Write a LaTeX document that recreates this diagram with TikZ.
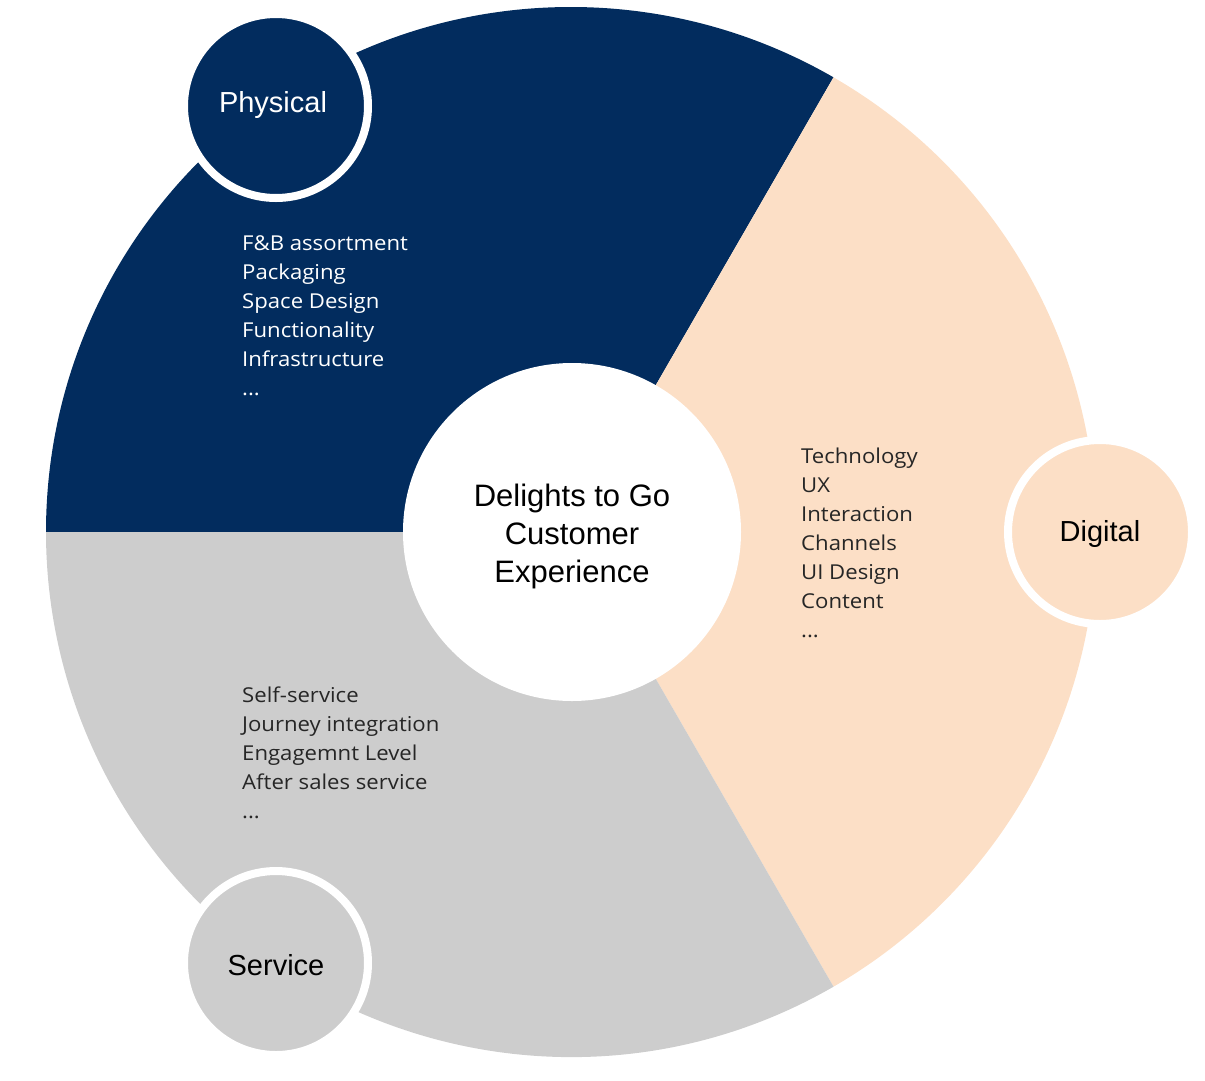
\documentclass[tikz,border=0pt]{standalone}
\usepackage{fontspec}
\setmainfont{Liberation Sans}
\newfontfamily\listfont[FakeStretch=1.08]{Open Sans}
\definecolor{navy}{RGB}{2,44,94}
\definecolor{peach}{RGB}{252,223,198}
\definecolor{svcgray}{RGB}{205,205,205}
\begin{document}
\begin{tikzpicture}[x=1pt,y=-1pt,
  smallcirc/.style={circle, draw=white, line width=8pt, minimum size=184pt, inner sep=0pt},
  catlabel/.style={font=\fontsize{29}{34}\selectfont},
  itemlist/.style={anchor=north west, inner sep=0pt, align=left, font=\listfont\fontsize{20.5}{29}\selectfont}]
\useasboundingbox (0,0) rectangle (1205,1080);
\coordinate (C) at (571,532);
% sectors
\fill[navy] (C) -- ++(180:525) arc[start angle=180, end angle=300, radius=525] -- cycle;
\fill[peach] (C) -- ++(300:525) arc[start angle=-60, end angle=60, radius=525] -- cycle;
\fill[svcgray] (C) -- ++(60:525) arc[start angle=60, end angle=180, radius=525] -- cycle;
% centre
\node[circle, fill=white, minimum size=338pt, inner sep=0pt] (hub) at (572,532) {};
\node[align=center, font=\fontsize{31}{38}\selectfont] (hubtext) at (572,536)
  {Delights to Go\\Customer\\Experience};
% category circles
\node[smallcirc, fill=navy] (phys) at (276,106) {};
\node[smallcirc, fill=peach] (dig) at (1100,532) {};
\node[smallcirc, fill=svcgray] (serv) at (276,963) {};
\node[catlabel, text=white] (physlabel) at (273,105) {Physical};
\node[catlabel] (diglabel) at (1100,534) {Digital};
\node[catlabel] (servlabel) at (276,965) {Service};
% lists
\node[itemlist, text=white] (physlist) at (242,235)
  {F\&B assortment\\Packaging\\Space Design\\Functionality\\Infrastructure\\...};
\node[itemlist, text=black!85] (diglist) at (801,448)
  {Technology\\UX\\Interaction\\Channels\\UI Design\\Content\\...};
\node[itemlist, text=black!85] (servlist) at (242,687)
  {Self-service\\Journey integration\\Engagemnt Level\\After sales service\\...};
\end{tikzpicture}
\end{document}
